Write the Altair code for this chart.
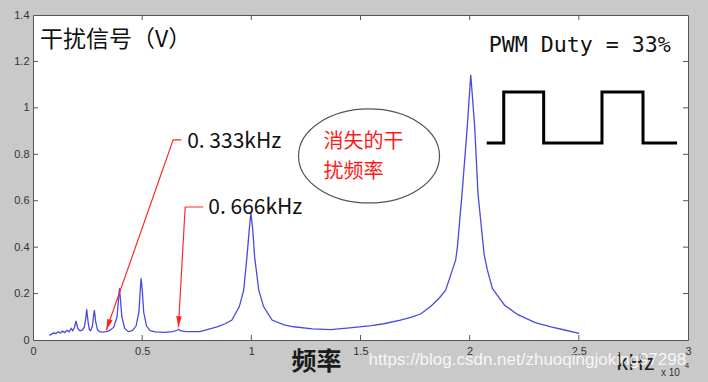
import altair as alt
import pandas as pd

# ---- spectrum ----
freq = [0.075, 0.085, 0.095, 0.105, 0.115, 0.125, 0.135, 0.145, 0.155, 0.165,
        0.175, 0.182, 0.190, 0.197, 0.205, 0.215, 0.225, 0.235, 0.242, 0.246,
        0.252, 0.258, 0.264, 0.272, 0.277, 0.281, 0.287, 0.295, 0.305, 0.320,
        0.335, 0.350, 0.370, 0.385, 0.392, 0.396, 0.400, 0.407, 0.420, 0.437,
        0.455, 0.472, 0.485, 0.491, 0.495, 0.500, 0.507, 0.520, 0.537, 0.560,
        0.600, 0.640, 0.660, 0.667, 0.675, 0.700, 0.765, 0.843, 0.880, 0.911,
        0.945, 0.965, 0.980, 0.990, 0.998, 1.007, 1.015, 1.034, 1.056, 1.095,
        1.150, 1.194, 1.280, 1.362, 1.450, 1.550, 1.607, 1.683, 1.730, 1.775,
        1.821, 1.860, 1.890, 1.921, 1.936, 1.944, 1.966, 1.989, 2.005, 2.023,
        2.038, 2.066, 2.081, 2.104, 2.127, 2.160, 2.219, 2.300, 2.372, 2.440,
        2.501]
volts = [0.020, 0.025, 0.030, 0.028, 0.035, 0.030, 0.038, 0.032, 0.042, 0.035,
         0.050, 0.040, 0.055, 0.082, 0.050, 0.040, 0.042, 0.055, 0.095, 0.132,
         0.080, 0.045, 0.040, 0.060, 0.100, 0.129, 0.080, 0.045, 0.036, 0.034,
         0.036, 0.040, 0.055, 0.100, 0.180, 0.223, 0.180, 0.100, 0.050, 0.036,
         0.040, 0.060, 0.120, 0.210, 0.266, 0.220, 0.120, 0.060, 0.040, 0.035,
         0.033, 0.036, 0.042, 0.046, 0.040, 0.036, 0.036, 0.057, 0.070, 0.086,
         0.144, 0.215, 0.359, 0.470, 0.548, 0.470, 0.359, 0.215, 0.144, 0.086,
         0.065, 0.057, 0.048, 0.045, 0.052, 0.062, 0.070, 0.086, 0.097, 0.112,
         0.144, 0.180, 0.215, 0.302, 0.345, 0.402, 0.640, 0.919, 1.142, 0.919,
         0.632, 0.370, 0.302, 0.222, 0.192, 0.150, 0.110, 0.075, 0.057, 0.042,
         0.029]

x_ticks = [0, 0.5, 1, 1.5, 2, 2.5, 3]
y_ticks = [0, 0.2, 0.4, 0.6, 0.8, 1.0, 1.2, 1.4]
x_inner = [0.5, 1, 1.5, 2, 2.5]
y_inner = [0.2, 0.4, 0.6, 0.8, 1.0, 1.2]

# PWM square wave (Duty = 33%)
pwm_x = [2.078, 2.156, 2.156, 2.339, 2.339, 2.606, 2.606, 2.794, 2.794, 2.950]
pwm_y = [0.849, 0.849, 1.068, 1.068, 0.849, 0.849, 1.068, 1.068, 0.849, 0.849]

# annotation leader lines
arrow_id = ["a", "a", "a", "b", "b", "b"]
arrow_x = [0.680, 0.642, 0.336, 0.780, 0.697, 0.666]
arrow_y = [0.862, 0.862, 0.043, 0.573, 0.573, 0.055]
head_x = [0.336, 0.666]
head_y = [0.043, 0.055]
head_angle = [19, 3]

label_text = ["0. 333kHz", "0. 666kHz"]
label_x = [0.706, 0.803]
label_y = [0.853, 0.569]

red_text = ["消失的干", "扰频率"]
red_x = [1.330, 1.330]
red_y = [0.853, 0.724]

ellipse_x = [1.539]
ellipse_y = [0.793]

W, H = 655, 325

X = alt.X("x:Q", scale=alt.Scale(domain=[0, 3], nice=False, zero=False),
          axis=alt.Axis(values=x_ticks, format="~g", ticks=False, domain=False,
                        grid=False, labelFont="Liberation Sans", labelFontSize=11,
                        labelColor="#333333", labelPadding=5, title=None,
                        labelFlush=False))
Y = alt.Y("y:Q", scale=alt.Scale(domain=[0, 1.4], nice=False, zero=False),
          axis=alt.Axis(values=y_ticks, format="~g", ticks=False, domain=False,
                        grid=False, labelFont="Liberation Sans", labelFontSize=11,
                        labelColor="#333333", labelPadding=4, title=None,
                        labelFlush=False))

spec = pd.DataFrame({"x": freq, "y": volts})
spectrum = alt.Chart(spec).mark_line(color="#4a4ae2", strokeWidth=1.3).encode(x=X, y=Y)

xt = pd.DataFrame({"x": x_inner})
yt = pd.DataFrame({"y": y_inner})
tick_style = dict(color="#555555", strokeWidth=1)
tb = alt.Chart(xt).mark_rule(**tick_style).encode(x=X, y=alt.value(H), y2=alt.value(H - 5))
tt = alt.Chart(xt).mark_rule(**tick_style).encode(x=X, y=alt.value(0), y2=alt.value(5))
tl = alt.Chart(yt).mark_rule(**tick_style).encode(y=Y, x=alt.value(0), x2=alt.value(5))
tr = alt.Chart(yt).mark_rule(**tick_style).encode(y=Y, x=alt.value(W), x2=alt.value(W - 5))

pwm = alt.Chart(pd.DataFrame({"x": pwm_x, "y": pwm_y, "o": list(range(len(pwm_x)))})
                ).mark_line(color="#000000", strokeWidth=3, strokeJoin="miter").encode(
    x=X, y=Y, order="o:Q")

arrows = alt.Chart(pd.DataFrame({"x": arrow_x, "y": arrow_y, "id": arrow_id,
                                 "o": list(range(len(arrow_x)))})
                   ).mark_line(color="#ff2a2a", strokeWidth=1.2).encode(
    x=X, y=Y, detail="id:N", order="o:Q")

heads = alt.Chart(pd.DataFrame({"x": head_x, "y": head_y, "a": head_angle})
                  ).mark_point(shape="M -0.5 -2 L 0.5 -2 L 0 0 Z", size=121,
                               filled=True, color="#ff2020", opacity=1).encode(
    x=X, y=Y, angle=alt.Angle("a:Q", scale=None))

labels = alt.Chart(pd.DataFrame({"x": label_x, "y": label_y, "t": label_text})
                   ).mark_text(align="left", baseline="middle", font="Noto Sans CJK SC",
                               fontSize=21, color="#111111").encode(x=X, y=Y, text="t:N")

ellipse = alt.Chart(pd.DataFrame({"x": ellipse_x, "y": ellipse_y})
                    ).mark_point(shape="M -1 0 A 1 0.667 0 1 1 1 0 A 1 0.667 0 1 1 -1 0 Z",
                                 size=141 * 141, filled=False, color="#555555",
                                 strokeWidth=1.2, opacity=1).encode(x=X, y=Y)

red = alt.Chart(pd.DataFrame({"x": red_x, "y": red_y, "t": red_text})
                ).mark_text(align="left", baseline="middle", font="Noto Sans CJK SC",
                            fontSize=20, color="#ff1a1a").encode(x=X, y=Y, text="t:N")

# titles and other texts
title = alt.Chart(pd.DataFrame({"x": [0.032], "y": [1.293], "t": ["干扰信号（V）"]})
                  ).mark_text(align="left", baseline="middle", font="Noto Sans CJK SC",
                              fontSize=23, color="#111111").encode(x=X, y=Y, text="t:N")
pwm_t = alt.Chart(pd.DataFrame({"x": [2.087], "y": [1.267], "t": ["PWM Duty = 33%"]})
                  ).mark_text(align="left", baseline="middle", font="DejaVu Sans Mono",
                              fontSize=21.6, color="#111111").encode(x=X, y=Y, text="t:N")
xlab = alt.Chart(pd.DataFrame({"x": [1.298], "y": [-0.095], "t": ["频率"]})
                 ).mark_text(align="center", baseline="middle", font="Noto Sans CJK SC",
                             fontSize=25, fontWeight="bold", color="#1a1a1a").encode(
    x=X, y=Y, text="t:N")
khz = alt.Chart(pd.DataFrame({"x": [2.670], "y": [-0.099], "t": ["kHz"]})
                ).mark_text(align="left", baseline="middle", font="Noto Sans CJK SC",
                            fontSize=22, color="#222222").encode(x=X, y=Y, text="t:N")
x10 = alt.Chart(pd.DataFrame({"x": [2.876], "y": [-0.142], "t": ["x 10"]})
                ).mark_text(align="left", baseline="middle", font="Liberation Sans",
                            fontSize=10, color="#333333").encode(x=X, y=Y, text="t:N")
sup = alt.Chart(pd.DataFrame({"x": [2.985], "y": [-0.113], "t": ["4"]})
                ).mark_text(align="left", baseline="middle", font="Liberation Sans",
                            fontSize=8, color="#333333").encode(x=X, y=Y, text="t:N")
wm = alt.Chart(pd.DataFrame({"x": [1.537], "y": [-0.086],
                             "t": ["https://blog.csdn.net/zhuoqingjoking97298"]})
               ).mark_text(align="left", baseline="middle", font="Liberation Sans",
                           fontSize=17, color="#ffffff", opacity=0.85).encode(
    x=X, y=Y, text="t:N")

chart = alt.layer(
    spectrum, tb, tt, tl, tr, pwm, arrows, heads, labels, ellipse, red,
    title, pwm_t, xlab, khz, x10, sup, wm
).properties(
    width=W, height=H,
    autosize=alt.AutoSizeParams(type="none"),
    padding={"left": 33, "top": 15, "right": 20, "bottom": 42},
    background="#c9c9c9",
).configure_view(fill="white", stroke="#555555", strokeWidth=1)

chart.save("out.html", embed_options={"renderer": "svg", "actions": False})
